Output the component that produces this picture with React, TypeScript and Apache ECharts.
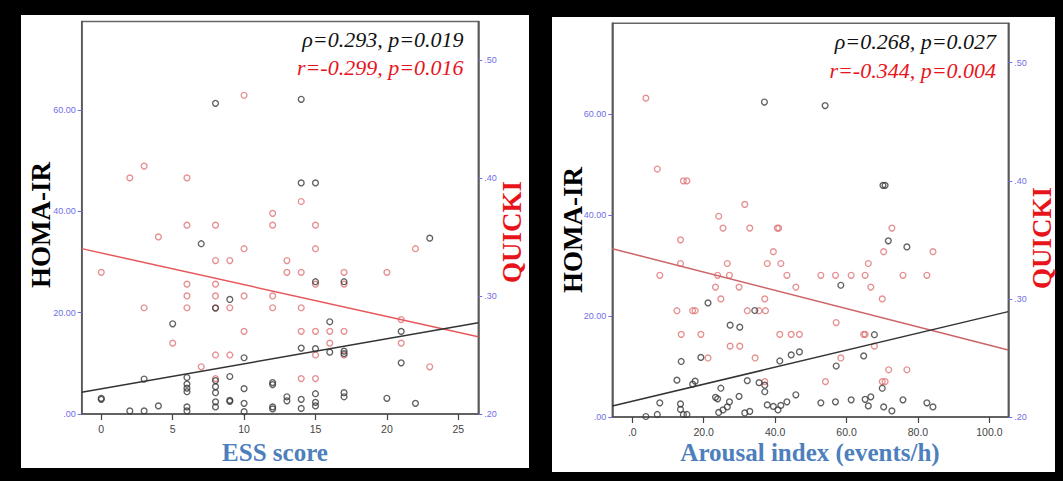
import { useEffect, useRef } from "react";
import * as echarts from "echarts";

// ---------- data ----------
const essTicks = [0, 5, 10, 15, 20, 25];
const arousalTicks = [0, 20, 40, 60, 80, 100];
const homaTicks = [0, 20, 40, 60];
const quickiTicks = [0.2, 0.3, 0.4, 0.5];

// panel 1 : ESS score vs HOMA-IR (black) and QUICKI (red)
const essHoma: [number, number][] = [
  [8, 61.3], [14, 62.1], [14, 45.6], [15, 45.6], [23, 34.7], [7, 33.6], [15, 26.1], [17, 26.1],
  [9, 22.6], [8, 20.9], [5, 17.8], [16, 18.2], [21, 16.3], [14, 13.0], [15, 12.9], [16, 12.2],
  [17, 12.4], [17, 11.9], [10, 11.1], [21, 10.1], [3, 6.9], [6, 7.2], [9, 7.4], [6, 5.9],
  [6, 5.1], [6, 4.4], [8, 6.6], [8, 5.4], [8, 4.2], [8, 2.4], [8, 1.4], [10, 5.0],
  [12, 6.2], [12, 5.8], [13, 3.4], [13, 2.6], [0, 3.1], [0, 2.9], [20, 3.1], [17, 4.2],
  [17, 3.4], [15, 4.0], [15, 2.3], [15, 1.6], [14, 2.9], [14, 1.1], [9, 2.7], [9, 2.5],
  [10, 2.1], [22, 2.1], [4, 1.6], [6, 1.4], [6, 0.6], [12, 1.4], [12, 1.0], [2, 0.6],
  [3, 0.6], [10, 0.45],
];
const essQuicki: [number, number][] = [
  [10, 0.47], [2, 0.40], [3, 0.41], [6, 0.40], [14, 0.38], [12, 0.37], [12, 0.36], [6, 0.36],
  [8, 0.36], [15, 0.36], [4, 0.35], [10, 0.34], [15, 0.34], [22, 0.34], [8, 0.33], [9, 0.33],
  [13, 0.33], [0, 0.32], [13, 0.32], [14, 0.32], [17, 0.32], [20, 0.32], [6, 0.31], [8, 0.31],
  [15, 0.31], [17, 0.31], [6, 0.30], [8, 0.30], [10, 0.30], [12, 0.30], [3, 0.29], [6, 0.29],
  [8, 0.29], [9, 0.29], [12, 0.29], [14, 0.29], [21, 0.28], [10, 0.27], [14, 0.27], [15, 0.27],
  [16, 0.27], [17, 0.27], [5, 0.26], [16, 0.26], [21, 0.26], [8, 0.25], [9, 0.25], [15, 0.25],
  [17, 0.25], [7, 0.24], [23, 0.24], [8, 0.23], [14, 0.23], [15, 0.23],
];

// panel 2 : Arousal index vs HOMA-IR (black) and QUICKI (red)
const arousalHoma: [number, number][] = [
  [37.0, 62.4], [54.0, 61.7], [70.2, 45.9], [70.8, 45.9], [71.7, 34.9], [76.9, 33.7], [58.4, 26.1],
  [21.2, 22.6], [34.3, 21.1], [27.4, 18.2], [30.1, 17.8], [67.8, 16.3], [46.8, 12.9], [44.5, 12.3],
  [64.8, 12.1], [19.2, 11.8], [41.3, 11.1], [13.7, 11.0], [57.1, 10.1], [12.5, 7.3], [32.2, 7.2],
  [17.6, 7.1], [35.5, 6.8], [16.9, 6.5], [37.1, 6.3], [24.8, 5.7], [70.0, 5.7], [37.1, 5.0],
  [45.8, 4.4], [29.9, 4.1], [66.8, 4.0], [23.3, 3.9], [23.9, 3.6], [65.2, 3.5], [61.3, 3.4],
  [75.8, 3.4], [27.2, 3.0], [56.9, 3.0], [43.3, 3.0], [7.7, 2.8], [52.8, 2.8], [82.5, 2.8],
  [13.5, 2.6], [37.8, 2.4], [41.6, 2.3], [66.1, 2.2], [39.5, 2.1], [26.6, 2.0], [70.4, 2.0],
  [84.2, 2.0], [13.5, 1.5], [25.4, 1.4], [40.8, 1.4], [72.7, 1.2], [32.9, 1.1], [24.2, 0.9],
  [31.5, 0.8], [7.0, 0.5], [14.3, 0.5], [15.3, 0.5], [3.8, 0.1],
];
const arousalQuicki: [number, number][] = [
  [3.8, 0.47], [7.0, 0.41], [14.3, 0.40], [15.3, 0.40], [31.5, 0.38], [24.2, 0.37], [25.4, 0.36],
  [32.9, 0.36], [40.6, 0.36], [41.0, 0.36], [72.7, 0.36], [13.5, 0.35], [39.5, 0.34], [70.4, 0.34],
  [84.2, 0.34], [13.5, 0.33], [26.6, 0.33], [37.8, 0.33], [41.6, 0.33], [66.1, 0.33], [7.7, 0.32],
  [23.9, 0.32], [27.2, 0.32], [43.3, 0.32], [52.8, 0.32], [56.9, 0.32], [61.3, 0.32], [65.2, 0.32],
  [75.8, 0.32], [82.5, 0.32], [23.3, 0.31], [29.9, 0.31], [45.8, 0.31], [66.8, 0.31], [24.8, 0.30],
  [37.1, 0.30], [70.0, 0.30], [12.5, 0.29], [16.9, 0.29], [17.6, 0.29], [32.2, 0.29], [35.5, 0.29],
  [37.3, 0.29], [57.1, 0.28], [13.7, 0.27], [19.2, 0.27], [41.3, 0.27], [44.5, 0.27], [46.8, 0.27],
  [64.8, 0.27], [65.2, 0.27], [27.4, 0.26], [30.1, 0.26], [67.8, 0.26], [21.2, 0.25], [34.4, 0.25],
  [58.4, 0.25], [71.8, 0.24], [76.9, 0.24], [37.1, 0.23], [54.1, 0.23], [70.0, 0.23], [70.8, 0.23],
];

// fitted lines: [intercept, slope]
const essHomaFit = [4.96, 0.494];
const essQuickiFit = [0.3364, -0.002686];
const arousalHomaFit = [3.12, 0.1686];
const arousalQuickiFit = [0.3382, -0.000774];

// axis ranges
const essRange = [-1.37, 26.4];
const arousalRange = [-5.6, 105.3];
const homaRangeL = [0, 77.45];
const homaRangeR = [0, 78.0];
const quickiRangeL = [0.2, 0.5325];
const quickiRangeR = [0.2, 0.5334];

const statsLeft = ["ρ=0.293, p=0.019", "r=-0.299, p=0.016"];
const statsRight = ["ρ=0.268, p=0.027", "r=-0.344, p=0.004"];
const xTitles = ["ESS score", "Arousal index (events/h)"];
const yTitles = ["HOMA-IR", "QUICKI"];

// ---------- styling ----------
const BLACK_PT = "#3a3a3a";
const RED_PT = "#e07375";
const BLUE_TICK = "#6f6fe6";
const SERIF = '"Liberation Serif", "Times New Roman", serif';
const SANS = '"Liberation Sans", Arial, sans-serif';

const fmt = (d: number) => (v: number) => {
  const s = Number(v).toFixed(d);
  return s.startsWith("0.") ? s.slice(1) : s;
};

const fitLine = (fit: number[], range: number[]) =>
  range.map((x) => [x, fit[0] + fit[1] * x]);

function xAxisCfg(gridIndex: number, range: number[], ticks: number[], d: number) {
  return {
    type: "value",
    gridIndex,
    min: range[0],
    max: range[1],
    splitLine: { show: false },
    axisLine: { show: true, onZero: false, lineStyle: { color: "#555", width: 1.5 } },
    axisTick: { show: true, length: 6, customValues: ticks, lineStyle: { color: "#444", width: 1.2 } },
    axisLabel: {
      customValues: ticks,
      formatter: fmt(d),
      color: "#444",
      fontFamily: SANS,
      fontSize: 10.5,
      margin: 9,
    },
  };
}

function yAxisCfg(gridIndex: number, position: string, range: number[], ticks: number[], d: number) {
  return {
    type: "value",
    gridIndex,
    position,
    min: range[0],
    max: range[1],
    splitLine: { show: false },
    axisLine: { show: true, onZero: false, lineStyle: { color: "#555", width: 1.5 } },
    axisTick: { show: true, length: 4, customValues: ticks, lineStyle: { color: BLUE_TICK, width: 1 } },
    axisLabel: {
      customValues: ticks,
      formatter: fmt(d),
      color: BLUE_TICK,
      fontFamily: SANS,
      fontSize: 9,
      margin: 6,
    },
  };
}

function scatter(data: [number, number][], xi: number, yi: number, color: string) {
  return {
    type: "scatter",
    xAxisIndex: xi,
    yAxisIndex: yi,
    data,
    symbol: "circle",
    symbolSize: 5.8,
    itemStyle: { color: "rgba(255,255,255,0)", borderColor: color, borderWidth: 1.35 },
    z: 3,
  };
}

function line(data: number[][], xi: number, yi: number, color: string) {
  return {
    type: "line",
    xAxisIndex: xi,
    yAxisIndex: yi,
    data,
    showSymbol: false,
    symbol: "none",
    lineStyle: { color, width: 1.5 },
    clip: true,
    z: 4,
  };
}

function txt(x: number, y: number, text: string, font: string, fill: string, align = "center", rotation = 0) {
  return {
    type: "text",
    x,
    y,
    rotation,
    z: 10,
    style: {
      text,
      font,
      fill,
      align,
      textAlign: align,
      verticalAlign: "middle",
      textVerticalAlign: "middle",
    },
  };
}

export default function App() {
  const ref = useRef<HTMLDivElement>(null);

  useEffect(() => {
    if (!ref.current) return;
    const chart = echarts.init(ref.current, undefined, { renderer: "svg" });
    const option = {
      animation: false,
      backgroundColor: "#000",
      grid: [
        { left: 81.7, top: 21.5, width: 396.6, height: 392.5, show: true, borderColor: "#666", borderWidth: 1.5, backgroundColor: "#fff", containLabel: false },
        { left: 612.3, top: 23.3, width: 396, height: 393.7, show: true, borderColor: "#666", borderWidth: 1.5, backgroundColor: "#fff", containLabel: false },
      ],
      xAxis: [xAxisCfg(0, essRange, essTicks, 0), xAxisCfg(1, arousalRange, arousalTicks, 1)],
      yAxis: [
        yAxisCfg(0, "left", homaRangeL, homaTicks, 2),
        yAxisCfg(0, "right", quickiRangeL, quickiTicks, 2),
        yAxisCfg(1, "left", homaRangeR, homaTicks, 2),
        yAxisCfg(1, "right", quickiRangeR, quickiTicks, 2),
      ],
      series: [
        scatter(essQuicki, 0, 1, RED_PT),
        scatter(essHoma, 0, 0, BLACK_PT),
        line(fitLine(essQuickiFit, essRange), 0, 1, "#e8575b"),
        line(fitLine(essHomaFit, essRange), 0, 0, "#333"),
        scatter(arousalQuicki, 1, 3, RED_PT),
        scatter(arousalHoma, 1, 2, BLACK_PT),
        line(fitLine(arousalQuickiFit, arousalRange), 1, 3, "#cc6466"),
        line(fitLine(arousalHomaFit, arousalRange), 1, 2, "#333"),
      ],
      graphic: [
        { type: "rect", z: -10, shape: { x: 21, y: 15, width: 508, height: 453 }, style: { fill: "#fff" } },
        { type: "rect", z: -10, shape: { x: 552, y: 17, width: 503, height: 455 }, style: { fill: "#fff" } },
        txt(40.5, 225, yTitles[0], `bold 27px ${SERIF}`, "#000", "center", Math.PI / 2),
        txt(512, 232, yTitles[1], `bold 27px ${SERIF}`, "#e8141c", "center", Math.PI / 2),
        txt(572.5, 230, yTitles[0], `bold 27px ${SERIF}`, "#000", "center", Math.PI / 2),
        txt(1041.5, 238, yTitles[1], `bold 27px ${SERIF}`, "#e8141c", "center", Math.PI / 2),
        txt(275, 452, xTitles[0], `bold 25px ${SERIF}`, "#4e7fbd"),
        txt(810, 452, xTitles[1], `bold 25px ${SERIF}`, "#4e7fbd"),
        txt(463.5, 39.5, statsLeft[0], `italic 22px ${SERIF}`, "#111", "right"),
        txt(463.5, 67.5, statsLeft[1], `italic 22px ${SERIF}`, "#e8141c", "right"),
        txt(996, 41, statsRight[0], `italic 22px ${SERIF}`, "#111", "right"),
        txt(996, 70, statsRight[1], `italic 22px ${SERIF}`, "#e8141c", "right"),
      ],
    };
    chart.setOption(option as any);
    return () => chart.dispose();
  }, []);

  return (
    <div
      ref={ref}
      style={{ position: "fixed", left: 0, top: 0, width: 1063, height: 481 }}
    />
  );
}
